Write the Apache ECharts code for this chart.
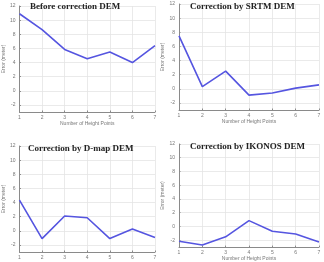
<!DOCTYPE html>
<html>
<head>
<meta charset="utf-8">
<script src="https://cdn.jsdelivr.net/npm/echarts@6/dist/echarts.min.js"></script>
<style>
html, body { margin: 0; padding: 0; background: #fff; }
#chart { width: 324px; height: 262px; }
</style>
</head>
<body>
<div id="chart"></div>
<script>
const points = [1, 2, 3, 4, 5, 6, 7];
const yTicks = [-2, 0, 2, 4, 6, 8, 10, 12];
const titles = ["Before correction DEM", "Correction by SRTM DEM", "Correction by D-map DEM", "Correction by IKONOS DEM"];
const beforeDem = [10.9, 8.65, 5.85, 4.55, 5.5, 4.0, 6.4];
const srtmDem = [7.5, 0.3, 2.5, -0.9, -0.6, 0.1, 0.55];
const dmapDem = [4.35, -1.1, 2.1, 1.85, -1.1, 0.25, -0.95];
const ikonosDem = [-2.15, -2.7, -1.5, 0.85, -0.7, -1.1, -2.25];

const allSeries = [beforeDem, srtmDem, dmapDem, ikonosDem];

// grid boxes for the 4 panels
const grids = [
  { left: 15, right: 169, top: 6, bottom: 150 },
  { left: 179, right: 5, top: 4, bottom: 152 },
  { left: 15, right: 169, top: 146, bottom: 10 },
  { left: 179, right: 5, top: 144, bottom: 11 }
];
const titlePos = [[30, 2], [190, 2], [28, 144], [190, 142]];
const xNames = ["Number of Height Points", "Number of Height Points", "", "Number of Height Points"];

const axisGray = "#8a8a8a";
const labelGray = "#777";
const gridGray = "#e4e4e4";

const myChart = echarts.init(document.getElementById("chart"));

const option = {
  animation: false,
  title: titles.map((t, i) => ({
    text: t,
    left: titlePos[i][0],
    top: titlePos[i][1],
    padding: 0,
    textStyle: { fontFamily: "Liberation Serif", fontWeight: "bold", fontSize: 9, color: "#222" }
  })),
  grid: grids,
  xAxis: grids.map((g, i) => ({
    gridIndex: i,
    type: "value",
    min: 1,
    max: 7,
    interval: 1,
    name: xNames[i],
    nameLocation: "middle",
    nameGap: 8,
    nameTextStyle: { fontSize: 5, color: labelGray, fontFamily: "Liberation Sans" },
    axisLine: { onZero: false, lineStyle: { color: axisGray, width: 1 } },
    axisTick: { show: true, inside: true, length: 1.5, lineStyle: { color: axisGray } },
    axisLabel: { fontSize: 5, color: labelGray, margin: 3, fontFamily: "Liberation Sans" },
    splitLine: { show: true, lineStyle: { color: gridGray, width: 0.8 } }
  })),
  yAxis: grids.map((g, i) => ({
    gridIndex: i,
    type: "value",
    min: -3,
    max: 12,
    name: "Error (meter)",
    nameLocation: "middle",
    nameGap: 10,
    nameRotate: 90,
    nameTextStyle: { fontSize: 5, color: labelGray, fontFamily: "Liberation Sans" },
    axisLine: { show: true, onZero: false, lineStyle: { color: axisGray, width: 1 } },
    axisTick: { show: true, inside: true, length: 1.5, customValues: yTicks, lineStyle: { color: axisGray } },
    axisLabel: { fontSize: 5, color: labelGray, margin: 4, customValues: yTicks, fontFamily: "Liberation Sans" },
    splitLine: { show: true, lineStyle: { color: gridGray, width: 0.8 } }
  })),
  series: allSeries.map((vals, i) => ({
    type: "line",
    xAxisIndex: i,
    yAxisIndex: i,
    data: points.map((p, k) => [p, vals[k]]),
    showSymbol: false,
    lineStyle: { color: "#5555e0", width: 1.6 }
  }))
};

myChart.setOption(option);
</script>
</body>
</html>
